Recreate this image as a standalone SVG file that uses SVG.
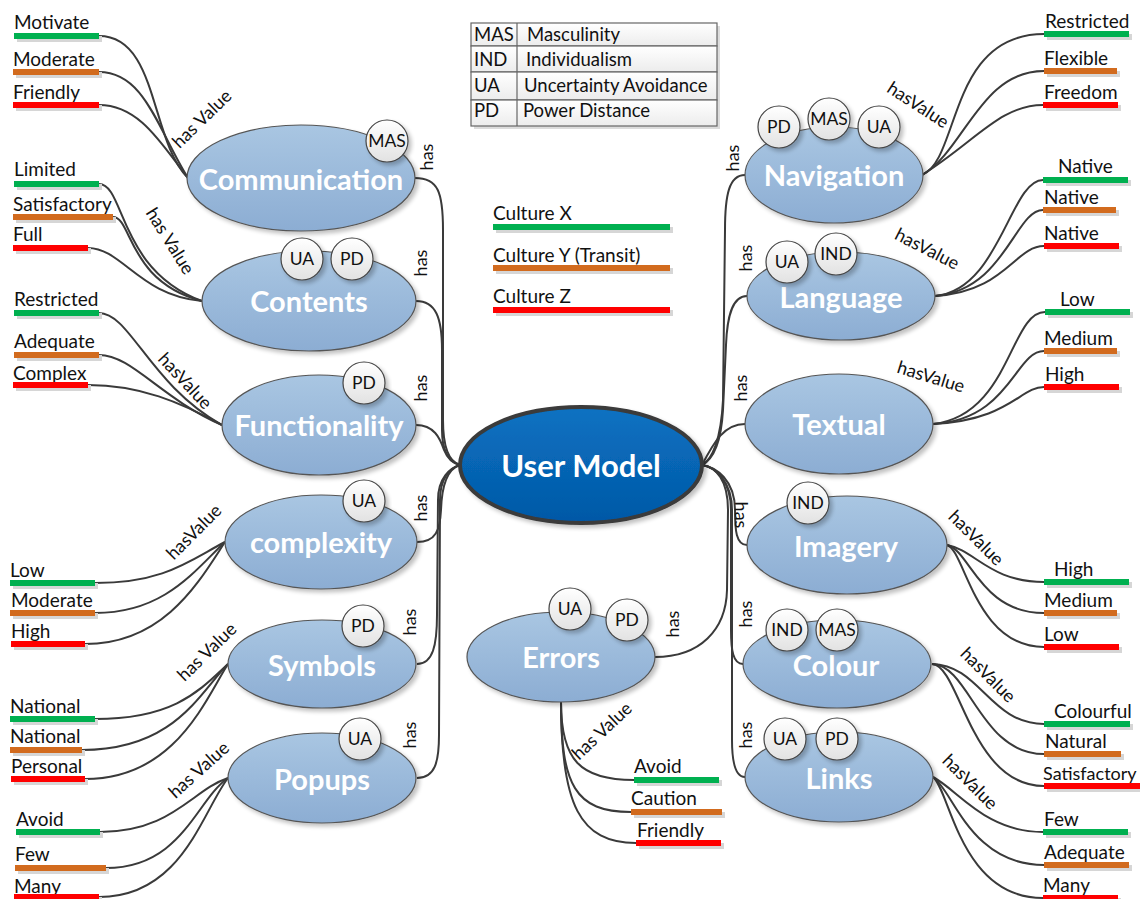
<svg xmlns="http://www.w3.org/2000/svg" width="1140" height="899" viewBox="0 0 1140 899">
  <defs>
    <linearGradient id="nodeFill" x1="0" y1="0" x2="0" y2="1">
      <stop offset="0" stop-color="#a9c6e2"/>
      <stop offset="1" stop-color="#8cadd3"/>
    </linearGradient>
    <linearGradient id="hubFill" x1="0" y1="0" x2="0" y2="1">
      <stop offset="0" stop-color="#0a72c2"/>
      <stop offset="1" stop-color="#0358a6"/>
    </linearGradient>
    <linearGradient id="badgeFill" x1="0" y1="0" x2="0" y2="1">
      <stop offset="0" stop-color="#ffffff"/>
      <stop offset="1" stop-color="#e2e2e2"/>
    </linearGradient>
    <linearGradient id="rowFill" x1="0" y1="0" x2="0" y2="1">
      <stop offset="0" stop-color="#ffffff"/>
      <stop offset="1" stop-color="#ececec"/>
    </linearGradient>
    <filter id="shadow" x="-10%" y="-10%" width="125%" height="130%">
      <feGaussianBlur in="SourceAlpha" stdDeviation="2"/>
      <feOffset dx="3" dy="3" result="b"/>
      <feComponentTransfer><feFuncA type="linear" slope="0.25"/></feComponentTransfer>
      <feMerge><feMergeNode/><feMergeNode in="SourceGraphic"/></feMerge>
    </filter>
  </defs>
  <style>
    text { font-family: Lato, "Liberation Sans", sans-serif; fill: #111; }
    .topic ellipse { fill: url(#nodeFill); stroke: #555; stroke-width: 1.2; filter: url(#shadow); }
    .topic .name { font-size: 29px; font-weight: bold; fill: #fff; text-anchor: middle; }
    .badge circle { fill: url(#badgeFill); stroke: #444; stroke-width: 1.2; filter: url(#shadow); }
    .badge text { font-size: 17.5px; text-anchor: middle; }
    .conn path { fill: none; stroke: #3a3a3a; stroke-width: 2; }
    .rel { font-size: 18px; text-anchor: middle; }
    .val text { font-size: 19px; }
    .bar-shadow { fill: #d6d6d6; }
    .gx { fill: #00b050; }
    .oy { fill: #d26b1e; }
    .rz { fill: #ff0000; }
    .legend text { font-size: 18.5px; }
    .legend rect { fill: url(#rowFill); stroke: #666; stroke-width: 1.2; }
  </style>

  <rect width="1140" height="899" fill="#ffffff"/>

  <!-- abbreviation table -->
  <g id="abbrev" class="legend">
    <rect x="474" y="26" width="246" height="103" style="fill:#dcdcdc;stroke:none"/>
    <rect x="471" y="23" width="246" height="23"/>
    <rect x="471" y="46" width="246" height="26"/>
    <rect x="471" y="72" width="246" height="28"/>
    <rect x="471" y="100" width="246" height="26"/>
    <line x1="517" y1="23" x2="517" y2="126" stroke="#666" stroke-width="1.2"/>
    <text x="474" y="41">MAS</text><text x="527" y="41">Masculinity</text>
    <text x="474" y="66">IND</text><text x="526" y="66">Individualism</text>
    <text x="474" y="92">UA</text><text x="524" y="92">Uncertainty Avoidance</text>
    <text x="474" y="117">PD</text><text x="523" y="117">Power Distance</text>
  </g>

  <!-- culture colour key -->
  <g id="culture-key" class="val">
    <text x="493" y="220">Culture X</text>
    <rect class="bar-shadow" x="496" y="227" width="177" height="6"/>
    <rect class="gx" x="493" y="224" width="177" height="6"/>
    <text x="493" y="262">Culture Y (Transit)</text>
    <rect class="bar-shadow" x="496" y="268" width="177" height="6"/>
    <rect class="oy" x="493" y="265" width="177" height="6"/>
    <text x="493" y="303">Culture Z</text>
    <rect class="bar-shadow" x="496" y="310" width="177" height="6"/>
    <rect class="rz" x="493" y="307" width="177" height="6"/>
  </g>

  <!-- connectors -->
  <g id="connectors" class="conn">
    <!-- hub to topics, left -->
    <path d="M415,178 C438,178 443,192 443,230 L443,420 C443,450 450,462 460,465"/>
    <path d="M416,301 C436,301 442,318 442,350 L442,430 C442,452 450,462 460,465"/>
    <path d="M416,425 C434,425 440,438 444,450 C448,460 454,464 460,465"/>
    <path d="M417,542 C436,542 440,530 441,510 C442,480 450,468 460,465"/>
    <path d="M417,664 C433,664 437,645 437,615 L438,500 C438,478 450,468 460,465"/>
    <path d="M417,778 C435,778 439,762 439,735 L440,500 C440,478 450,468 460,465"/>
    <!-- hub to topics, right -->
    <path d="M745,175 C729,175 725,195 725,230 L723,400 C721,440 712,460 702,465"/>
    <path d="M747,296 C731,296 727,320 726,345 L723,410 C721,445 712,460 702,465"/>
    <path d="M745,424 C724,424 714,442 702,465"/>
    <path d="M747,545 C736,545 735,530 735,510 C735,480 716,467 702,465"/>
    <path d="M743,664 C733,664 731,650 731,630 L731,510 C731,482 716,467 702,465"/>
    <path d="M745,777 C735,777 732,762 732,740 L732,510 C732,482 716,467 702,465"/>
    <path d="M655,657 C700,657 726,630 727,590 L728,510 C728,480 716,467 702,465"/>

    <!-- topic to values, left -->
    <path d="M99,36 C158,36 150,140 188,178"/>
    <path d="M99,72 C145,72 158,130 188,178"/>
    <path d="M99,105 C140,105 162,145 188,178"/>
    <path d="M99,184 C125,184 118,270 202,301"/>
    <path d="M113,217 C132,217 128,282 202,301"/>
    <path d="M88,248 C122,248 140,296 202,301"/>
    <path d="M99,313 C130,313 150,385 222,425"/>
    <path d="M99,355 C132,355 160,398 222,425"/>
    <path d="M88,385 C140,385 180,402 222,425"/>
    <path d="M95,583 C165,583 190,560 225,542"/>
    <path d="M95,613 C165,613 195,570 225,542"/>
    <path d="M85,644 C165,644 200,580 225,542"/>
    <path d="M95,719 C175,719 200,690 228,664"/>
    <path d="M82,750 C175,750 200,692 228,664"/>
    <path d="M85,779 C175,779 205,700 228,664"/>
    <path d="M100,832 C172,832 192,790 228,778"/>
    <path d="M106,868 C182,868 196,800 228,778"/>
    <path d="M99,897 C182,897 202,812 228,778"/>
    <!-- topic to values, right -->
    <path d="M922,175 C960,160 948,34 1044,34"/>
    <path d="M922,175 C965,150 980,71 1044,71"/>
    <path d="M922,175 C975,142 1000,105 1043,105"/>
    <path d="M935,296 C1000,290 1010,180 1043,180"/>
    <path d="M935,296 C1005,290 1015,210 1043,210"/>
    <path d="M935,296 C1005,292 1015,246 1044,246"/>
    <path d="M933,424 C1010,415 1010,312 1045,312"/>
    <path d="M933,424 C1010,420 1015,351 1044,351"/>
    <path d="M933,424 C1010,420 1020,387 1044,387"/>
    <path d="M947,545 C975,550 990,582 1044,582"/>
    <path d="M947,545 C970,550 980,613 1044,613"/>
    <path d="M947,545 C965,550 975,647 1044,647"/>
    <path d="M932,664 C980,665 990,724 1044,724"/>
    <path d="M932,664 C970,665 980,754 1044,754"/>
    <path d="M932,664 C960,665 970,786 1044,786"/>
    <path d="M933,777 C958,790 985,832 1043,832"/>
    <path d="M933,777 C953,790 970,865 1044,865"/>
    <path d="M933,777 C950,790 960,898 1043,898"/>
    <!-- errors to values -->
    <path d="M561,702 C561,760 580,780 634,780"/>
    <path d="M561,702 C561,785 575,812 631,812"/>
    <path d="M561,702 C561,805 580,843 636,843"/>
  </g>

  <!-- relation labels -->
  <g id="relation-labels">
    <text class="rel" transform="translate(427,157) rotate(-90)" dy="6">has</text>
    <text class="rel" transform="translate(421,263) rotate(-90)" dy="6">has</text>
    <text class="rel" transform="translate(421,388) rotate(-90)" dy="6">has</text>
    <text class="rel" transform="translate(421,508) rotate(-90)" dy="6">has</text>
    <text class="rel" transform="translate(410,622) rotate(-90)" dy="6">has</text>
    <text class="rel" transform="translate(410,735) rotate(-90)" dy="6">has</text>
    <text class="rel" transform="translate(733,158) rotate(-90)" dy="6">has</text>
    <text class="rel" transform="translate(746,258) rotate(-90)" dy="6">has</text>
    <text class="rel" transform="translate(741,388) rotate(-90)" dy="6">has</text>
    <text class="rel" transform="translate(741,515) rotate(90)" dy="6">has</text>
    <text class="rel" transform="translate(746,614) rotate(-90)" dy="6">has</text>
    <text class="rel" transform="translate(746,735) rotate(-90)" dy="6">has</text>
    <text class="rel" transform="translate(673,624) rotate(-90)" dy="6">has</text>

    <text class="rel" transform="translate(202,119) rotate(-44)" dy="6">has Value</text>
    <text class="rel" transform="translate(170,241) rotate(58)" dy="6">has Value</text>
    <text class="rel" transform="translate(185,381) rotate(47)" dy="6">hasValue</text>
    <text class="rel" transform="translate(194,532) rotate(-45)" dy="6">hasValue</text>
    <text class="rel" transform="translate(207,652) rotate(-44)" dy="6">has Value</text>
    <text class="rel" transform="translate(199,770) rotate(-42)" dy="6">has Value</text>
    <text class="rel" transform="translate(918,105) rotate(33)" dy="6">hasValue</text>
    <text class="rel" transform="translate(927,249) rotate(27)" dy="6">hasValue</text>
    <text class="rel" transform="translate(931,377) rotate(17)" dy="6">hasValue</text>
    <text class="rel" transform="translate(976,538) rotate(45)" dy="6">hasValue</text>
    <text class="rel" transform="translate(988,675) rotate(45)" dy="6">hasValue</text>
    <text class="rel" transform="translate(970,782) rotate(45)" dy="6">hasValue</text>
    <text class="rel" transform="translate(602,731) rotate(-43)" dy="6">has Value</text>
  </g>

  <!-- hub -->
  <g id="user-model">
    <ellipse cx="581" cy="465" rx="121" ry="58" fill="url(#hubFill)" stroke="#3a3a3a" stroke-width="4" filter="url(#shadow)"/>
    <text x="581" y="477" font-size="31" font-weight="bold" text-anchor="middle" style="fill:#fff">User Model</text>
  </g>

  <!-- topics -->
  <g id="communication" class="topic">
    <ellipse cx="301" cy="178" rx="114" ry="53"/>
    <text class="name" x="301" y="190">Communication</text>
    <g class="badge"><circle cx="387" cy="141" r="21"/><text x="387" y="147">MAS</text></g>
  </g>
  <g id="contents" class="topic">
    <ellipse cx="309" cy="301" rx="107" ry="50"/>
    <text class="name" x="309" y="312">Contents</text>
    <g class="badge"><circle cx="302" cy="259" r="21"/><text x="302" y="265">UA</text></g>
    <g class="badge"><circle cx="352" cy="259" r="21"/><text x="352" y="265">PD</text></g>
  </g>
  <g id="functionality" class="topic">
    <ellipse cx="319" cy="425" rx="97" ry="50"/>
    <text class="name" x="319" y="436">Functionality</text>
    <g class="badge"><circle cx="364" cy="383" r="21"/><text x="364" y="389">PD</text></g>
  </g>
  <g id="complexity" class="topic">
    <ellipse cx="321" cy="542" rx="96" ry="47"/>
    <text class="name" x="321" y="553">complexity</text>
    <g class="badge"><circle cx="364" cy="501" r="21"/><text x="364" y="507">UA</text></g>
  </g>
  <g id="symbols" class="topic">
    <ellipse cx="322" cy="664" rx="94" ry="44"/>
    <text class="name" x="322" y="676">Symbols</text>
    <g class="badge"><circle cx="363" cy="626" r="21"/><text x="363" y="632">PD</text></g>
  </g>
  <g id="popups" class="topic">
    <ellipse cx="322" cy="778" rx="94" ry="45"/>
    <text class="name" x="322" y="790">Popups</text>
    <g class="badge"><circle cx="360" cy="739" r="21"/><text x="360" y="745">UA</text></g>
  </g>
  <g id="navigation" class="topic">
    <ellipse cx="834" cy="175" rx="89" ry="48"/>
    <text class="name" x="834" y="186">Navigation</text>
    <g class="badge"><circle cx="779" cy="127" r="21"/><text x="779" y="133">PD</text></g>
    <g class="badge"><circle cx="829" cy="119" r="21"/><text x="829" y="125">MAS</text></g>
    <g class="badge"><circle cx="879" cy="127" r="21"/><text x="879" y="133">UA</text></g>
  </g>
  <g id="language" class="topic">
    <ellipse cx="841" cy="296" rx="94" ry="44"/>
    <text class="name" x="841" y="308">Language</text>
    <g class="badge"><circle cx="787" cy="262" r="21"/><text x="787" y="268">UA</text></g>
    <g class="badge"><circle cx="836" cy="254" r="21"/><text x="836" y="260">IND</text></g>
  </g>
  <g id="textual" class="topic">
    <ellipse cx="839" cy="424" rx="94" ry="50"/>
    <text class="name" x="839" y="435">Textual</text>
  </g>
  <g id="imagery" class="topic">
    <ellipse cx="847" cy="545" rx="100" ry="49"/>
    <text class="name" x="846" y="557">Imagery</text>
    <g class="badge"><circle cx="808" cy="503" r="21"/><text x="808" y="509">IND</text></g>
  </g>
  <g id="colour" class="topic">
    <ellipse cx="837" cy="664" rx="94" ry="44"/>
    <text class="name" x="836" y="676">Colour</text>
    <g class="badge"><circle cx="787" cy="630" r="21"/><text x="787" y="636">IND</text></g>
    <g class="badge"><circle cx="837" cy="630" r="21"/><text x="837" y="636">MAS</text></g>
  </g>
  <g id="links" class="topic">
    <ellipse cx="839" cy="777" rx="94" ry="45"/>
    <text class="name" x="839" y="789">Links</text>
    <g class="badge"><circle cx="785" cy="739" r="21"/><text x="785" y="745">UA</text></g>
    <g class="badge"><circle cx="837" cy="739" r="21"/><text x="837" y="745">PD</text></g>
  </g>
  <g id="errors" class="topic">
    <ellipse cx="561" cy="657" rx="94" ry="45"/>
    <text class="name" x="561" y="668">Errors</text>
    <g class="badge"><circle cx="570" cy="609" r="21"/><text x="570" y="615">UA</text></g>
    <g class="badge"><circle cx="627" cy="620" r="21"/><text x="627" y="626">PD</text></g>
  </g>

  <!-- values: left side -->
  <g id="communication-values" class="val">
    <text x="14" y="29">Motivate</text><rect class="bar-shadow" x="17" y="36" width="85" height="6"/><rect class="gx" x="14" y="33" width="85" height="6"/>
    <text x="13" y="66">Moderate</text><rect class="bar-shadow" x="16" y="72" width="86" height="6"/><rect class="oy" x="13" y="69" width="86" height="6"/>
    <text x="13" y="99">Friendly</text><rect class="bar-shadow" x="16" y="105" width="86" height="6"/><rect class="rz" x="13" y="102" width="86" height="6"/>
  </g>
  <g id="contents-values" class="val">
    <text x="14" y="176">Limited</text><rect class="bar-shadow" x="17" y="184" width="85" height="6"/><rect class="gx" x="14" y="181" width="85" height="6"/>
    <text x="13" y="211">Satisfactory</text><rect class="bar-shadow" x="16" y="217" width="100" height="6"/><rect class="oy" x="13" y="214" width="100" height="6"/>
    <text x="13" y="241">Full</text><rect class="bar-shadow" x="16" y="248" width="75" height="6"/><rect class="rz" x="13" y="245" width="75" height="6"/>
  </g>
  <g id="functionality-values" class="val">
    <text x="14" y="306">Restricted</text><rect class="bar-shadow" x="17" y="313" width="85" height="6"/><rect class="gx" x="14" y="310" width="85" height="6"/>
    <text x="14" y="348">Adequate</text><rect class="bar-shadow" x="17" y="355" width="85" height="6"/><rect class="oy" x="14" y="352" width="85" height="6"/>
    <text x="13" y="380">Complex</text><rect class="bar-shadow" x="16" y="385" width="75" height="6"/><rect class="rz" x="13" y="382" width="75" height="6"/>
  </g>
  <g id="complexity-values" class="val">
    <text x="10" y="577">Low</text><rect class="bar-shadow" x="13" y="583" width="85" height="6"/><rect class="gx" x="10" y="580" width="85" height="6"/>
    <text x="11" y="607">Moderate</text><rect class="bar-shadow" x="13" y="613" width="85" height="6"/><rect class="oy" x="10" y="610" width="85" height="6"/>
    <text x="11" y="638">High</text><rect class="bar-shadow" x="14" y="644" width="74" height="6"/><rect class="rz" x="11" y="641" width="74" height="6"/>
  </g>
  <g id="symbols-values" class="val">
    <text x="10" y="713">National</text><rect class="bar-shadow" x="13" y="719" width="85" height="6"/><rect class="gx" x="10" y="716" width="85" height="6"/>
    <text x="10" y="743">National</text><rect class="bar-shadow" x="13" y="750" width="72" height="6"/><rect class="oy" x="10" y="747" width="72" height="6"/>
    <text x="11" y="773">Personal</text><rect class="bar-shadow" x="14" y="779" width="74" height="6"/><rect class="rz" x="11" y="776" width="74" height="6"/>
  </g>
  <g id="popups-values" class="val">
    <text x="16" y="826">Avoid</text><rect class="bar-shadow" x="19" y="832" width="84" height="6"/><rect class="gx" x="16" y="829" width="84" height="6"/>
    <text x="15" y="861">Few</text><rect class="bar-shadow" x="18" y="868" width="91" height="6"/><rect class="oy" x="15" y="865" width="91" height="6"/>
    <text x="14" y="893">Many</text><rect class="bar-shadow" x="17" y="897" width="85" height="6"/><rect class="rz" x="14" y="894" width="85" height="6"/>
  </g>

  <!-- values: right side -->
  <g id="navigation-values" class="val">
    <text x="1045" y="28">Restricted</text><rect class="bar-shadow" x="1047" y="34" width="85" height="6"/><rect class="gx" x="1044" y="31" width="85" height="6"/>
    <text x="1044" y="65">Flexible</text><rect class="bar-shadow" x="1047" y="71" width="73" height="6"/><rect class="oy" x="1044" y="68" width="73" height="6"/>
    <text x="1044" y="99">Freedom</text><rect class="bar-shadow" x="1046" y="105" width="75" height="6"/><rect class="rz" x="1043" y="102" width="75" height="6"/>
  </g>
  <g id="language-values" class="val">
    <text x="1058" y="173">Native</text><rect class="bar-shadow" x="1046" y="180" width="85" height="6"/><rect class="gx" x="1043" y="177" width="85" height="6"/>
    <text x="1044" y="204">Native</text><rect class="bar-shadow" x="1046" y="210" width="73" height="6"/><rect class="oy" x="1043" y="207" width="73" height="6"/>
    <text x="1044" y="240">Native</text><rect class="bar-shadow" x="1047" y="246" width="75" height="6"/><rect class="rz" x="1044" y="243" width="75" height="6"/>
  </g>
  <g id="textual-values" class="val">
    <text x="1060" y="306">Low</text><rect class="bar-shadow" x="1048" y="312" width="85" height="6"/><rect class="gx" x="1045" y="309" width="85" height="6"/>
    <text x="1044" y="345">Medium</text><rect class="bar-shadow" x="1047" y="351" width="73" height="6"/><rect class="oy" x="1044" y="348" width="73" height="6"/>
    <text x="1045" y="381">High</text><rect class="bar-shadow" x="1047" y="387" width="75" height="6"/><rect class="rz" x="1044" y="384" width="75" height="6"/>
  </g>
  <g id="imagery-values" class="val">
    <text x="1054" y="576">High</text><rect class="bar-shadow" x="1047" y="582" width="85" height="6"/><rect class="gx" x="1044" y="579" width="85" height="6"/>
    <text x="1044" y="607">Medium</text><rect class="bar-shadow" x="1047" y="613" width="73" height="6"/><rect class="oy" x="1044" y="610" width="73" height="6"/>
    <text x="1044" y="641">Low</text><rect class="bar-shadow" x="1047" y="647" width="75" height="6"/><rect class="rz" x="1044" y="644" width="75" height="6"/>
  </g>
  <g id="colour-values" class="val">
    <text x="1054" y="718">Colourful</text><rect class="bar-shadow" x="1047" y="724" width="86" height="6"/><rect class="gx" x="1044" y="721" width="86" height="6"/>
    <text x="1045" y="748">Natural</text><rect class="bar-shadow" x="1047" y="754" width="77" height="6"/><rect class="oy" x="1044" y="751" width="77" height="6"/>
    <text x="1043" y="780" style="font-size:18px">Satisfactory</text><rect class="bar-shadow" x="1047" y="786" width="96" height="6"/><rect class="rz" x="1044" y="783" width="96" height="6"/>
  </g>
  <g id="links-values" class="val">
    <text x="1044" y="826">Few</text><rect class="bar-shadow" x="1046" y="832" width="85" height="6"/><rect class="gx" x="1043" y="829" width="85" height="6"/>
    <text x="1044" y="859">Adequate</text><rect class="bar-shadow" x="1047" y="865" width="85" height="6"/><rect class="oy" x="1044" y="862" width="85" height="6"/>
    <text x="1043" y="892">Many</text><rect class="bar-shadow" x="1046" y="898" width="75" height="6"/><rect class="rz" x="1043" y="895" width="75" height="6"/>
  </g>
  <g id="errors-values" class="val">
    <text x="634" y="773">Avoid</text><rect class="bar-shadow" x="637" y="780" width="85" height="6"/><rect class="gx" x="634" y="777" width="85" height="6"/>
    <text x="631" y="805">Caution</text><rect class="bar-shadow" x="634" y="812" width="91" height="6"/><rect class="oy" x="631" y="809" width="91" height="6"/>
    <text x="637" y="837">Friendly</text><rect class="bar-shadow" x="639" y="843" width="85" height="6"/><rect class="rz" x="636" y="840" width="85" height="6"/>
  </g>
</svg>
